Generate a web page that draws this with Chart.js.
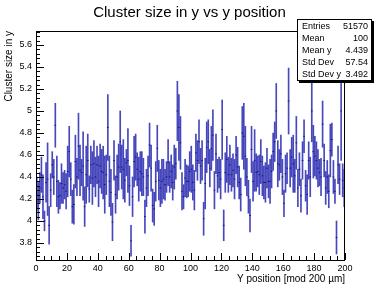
<!DOCTYPE html>
<html lang="en">
<head>
<meta charset="UTF-8">
<title>Cluster size in y vs y position</title>
<script src="https://cdn.jsdelivr.net/npm/chart.js"></script>
<style>
    html, body {
        margin: 0;
        padding: 0;
        background: #fff;
    }
    #wrap {
        position: relative;
        width: 374px;
        height: 286px;
    }
    #title {
        position: absolute;
        left: 0;
        top: 3px;
        width: 379px;
        text-align: center;
        font: 15px "Liberation Sans", Arial, sans-serif;
        color: #000;
        white-space: nowrap;
    }
    #stats {
        position: absolute;
        left: 297px;
        top: 19px;
        width: 73px;
        height: 60px;
        border: 1px solid #000;
        background: #fff;
        box-shadow: 2px 2px 0 #000;
        font: 9px "Liberation Sans", Arial, sans-serif;
        color: #000;
    }
    #stats .row {
        display: flex;
        justify-content: space-between;
        height: 12px;
        line-height: 12px;
        padding: 0 3px 0 4px;
    }
</style>
</head>
<body>
<div id="wrap">
    <canvas id="profChart" width="374" height="286"></canvas>
    <div id="title">Cluster size in y vs y position</div>
    <div id="stats"></div>
</div>

<script>
    // bin contents of the profile (mean cluster size per 1 um bin) and their errors
    const clusterMean = [
        4.25, 4.18, 4.30, 4.42, 4.22, 4.00, 4.35, 4.38, 3.96, 4.28,
        4.51, 4.40, 4.87, 4.36, 4.22, 4.23, 4.34, 4.30, 4.33, 4.27,
        4.45, 4.63, 4.38, 4.13, 4.15, 4.54, 4.40, 4.68, 4.46, 4.44,
        4.50, 4.13, 4.42, 4.55, 4.29, 4.51, 4.39, 4.52, 4.40, 4.51,
        4.36, 4.50, 4.45, 4.44, 4.33, 4.42, 4.85, 4.36, 4.26, 3.99,
        4.55, 4.24, 4.40, 4.49, 4.72, 4.49, 4.47, 4.37, 4.53, 4.55,
        4.32, 3.82, 4.22, 4.54, 4.58, 4.47, 4.38, 4.45, 4.43, 4.40,
        4.04, 4.30, 4.41, 4.69, 4.48, 4.14, 4.11, 4.36, 4.66, 4.37,
        4.30, 4.36, 4.38, 4.33, 4.40, 4.53, 4.40, 4.45, 4.35, 4.49,
        4.52, 5.00, 4.85, 4.71, 4.27, 4.22, 4.39, 4.36, 4.36, 4.45,
        4.47, 4.35, 4.28, 4.62, 4.55, 4.72, 4.50, 4.55, 4.02, 4.34,
        4.67, 4.72, 4.48, 4.66, 4.78, 4.28, 4.61, 4.41, 4.44, 4.38,
        4.83, 3.96, 4.44, 4.56, 4.42, 4.51, 4.42, 4.46, 4.38, 4.60,
        4.49, 4.35, 4.24, 4.80, 4.77, 4.59, 4.40, 4.22, 4.05, 4.65,
        4.36, 4.55, 4.44, 4.45, 4.42, 4.54, 4.41, 4.35, 4.35, 4.48,
        4.36, 4.36, 4.45, 4.63, 4.72, 5.00, 4.52, 4.51, 4.61, 4.40,
        4.16, 4.43, 4.48, 5.09, 4.48, 4.58, 4.52, 4.41, 4.71, 4.30,
        4.47, 4.23, 4.55, 4.77, 4.32, 4.24, 4.55, 4.40, 5.00, 4.63,
        4.59, 4.55, 4.48, 4.44, 4.40, 4.88, 4.55, 4.30, 4.40, 4.27,
        4.64, 4.74, 4.40, 4.27, 3.85, 4.51, 4.38, 5.00, 4.37, 4.30
    ];
    const clusterErr = [
        0.15, 0.17, 0.14, 0.16, 0.20, 0.09, 0.18, 0.33, 0.17, 0.15,
        0.12, 0.16, 0.20, 0.23, 0.15, 0.12, 0.18, 0.14, 0.13, 0.16,
        0.23, 0.23, 0.15, 0.15, 0.18, 0.24, 0.17, 0.30, 0.23, 0.12,
        0.31, 0.18, 0.26, 0.24, 0.12, 0.17, 0.24, 0.21, 0.18, 0.17,
        0.23, 0.20, 0.20, 0.24, 0.26, 0.18, 0.30, 0.23, 0.21, 0.17,
        0.18, 0.17, 0.20, 0.21, 0.28, 0.20, 0.27, 0.20, 0.12, 0.29,
        0.18, 0.14, 0.18, 0.23, 0.21, 0.15, 0.20, 0.18, 0.20, 0.17,
        0.15, 0.17, 0.18, 0.20, 0.21, 0.15, 0.15, 0.18, 0.21, 0.18,
        0.17, 0.20, 0.18, 0.14, 0.14, 0.21, 0.14, 0.15, 0.16, 0.20,
        0.14, 0.27, 0.30, 0.24, 0.17, 0.11, 0.17, 0.15, 0.14, 0.18,
        0.21, 0.16, 0.18, 0.17, 0.18, 0.20, 0.16, 0.18, 0.15, 0.23,
        0.23, 0.20, 0.17, 0.20, 0.23, 0.17, 0.18, 0.15, 0.14, 0.18,
        0.27, 0.14, 0.18, 0.21, 0.16, 0.18, 0.15, 0.15, 0.18, 0.17,
        0.18, 0.15, 0.15, 0.24, 0.30, 0.27, 0.17, 0.15, 0.15, 0.21,
        0.18, 0.28, 0.17, 0.14, 0.18, 0.20, 0.18, 0.15, 0.18, 0.18,
        0.15, 0.20, 0.15, 0.17, 0.18, 0.25, 0.21, 0.14, 0.17, 0.16,
        0.12, 0.17, 0.14, 0.30, 0.17, 0.18, 0.26, 0.15, 0.24, 0.17,
        0.15, 0.15, 0.17, 0.15, 0.14, 0.18, 0.17, 0.18, 0.28, 0.24,
        0.18, 0.17, 0.17, 0.12, 0.17, 0.21, 0.15, 0.15, 0.15, 0.15,
        0.24, 0.15, 0.15, 0.11, 0.15, 0.17, 0.14, 0.45, 0.15, 0.17
    ];
    // bin centres, 200 bins of 1 um between 0 and 200
    const binCenters = clusterMean.map((_, i) => i + 0.5);

    const xTicks = [0, 20, 40, 60, 80, 100, 120, 140, 160, 180, 200];
    const yTicks = [3.8, 4, 4.2, 4.4, 4.6, 4.8, 5, 5.2, 5.4, 5.6];

    const statLabels = ['Entries', 'Mean', 'Mean y', 'Std Dev', 'Std Dev y'];
    const statValues = ['51570', '100', '4.439', '57.54', '3.492'];

    const FONT = '"Liberation Sans", Arial, Helvetica, sans-serif';
    const BLUE = 'rgba(20, 20, 170, 0.78)';

    // stat box
    const statsBox = document.getElementById('stats');
    statLabels.forEach((lab, i) => {
        const row = document.createElement('div');
        row.className = 'row';
        row.innerHTML = `<span>${lab}</span><span>${statValues[i]}</span>`;
        statsBox.appendChild(row);
    });

    // ROOT-like frame with inward tick marks
    const rootFrame = {
        id: 'rootFrame',
        afterDraw(chart) {
            const {ctx, chartArea: a, scales: {x, y}} = chart;
            ctx.save();
            ctx.strokeStyle = '#000';
            ctx.lineWidth = 1;
            ctx.strokeRect(a.left + 0.5, a.top + 0.5, a.right - a.left - 1, a.bottom - a.top);
            ctx.beginPath();
            for (let v = 0; v <= 200; v += 5) {
                const px = Math.round(x.getPixelForValue(v)) + 0.5;
                const len = v % 20 === 0 ? 7 : 4;
                ctx.moveTo(px, a.bottom);
                ctx.lineTo(px, a.bottom - len);
            }
            for (let k = 92; k <= 143; k++) {
                const py = Math.round(y.getPixelForValue(k * 0.04)) + 0.5;
                const len = k % 5 === 0 ? 8 : 4;
                ctx.moveTo(a.left, py);
                ctx.lineTo(a.left + len, py);
            }
            ctx.stroke();
            ctx.restore();
        }
    };

    const ctx = document.getElementById('profChart').getContext('2d');
    new Chart(ctx, {
        type: 'bar',
        data: {
            datasets: [{
                type: 'bar',
                data: binCenters.map((c, i) => ({x: c, y: [clusterMean[i] - clusterErr[i], clusterMean[i] + clusterErr[i]]})),
                backgroundColor: BLUE,
                borderWidth: 0,
                barThickness: 1,
                grouped: false,
                order: 2
            }, {
                type: 'line',
                data: binCenters.map((c, i) => ({x: c, y: clusterMean[i]})),
                showLine: false,
                pointStyle: 'line',
                pointRadius: 0.8,
                pointBorderWidth: 1,
                pointBorderColor: 'rgb(20, 20, 120)',
                pointHoverRadius: 0,
                order: 1
            }]
        },
        options: {
            responsive: false,
            animation: false,
            events: [],
            layout: {padding: {left: 0, right: 29, top: 31, bottom: 0}},
            plugins: {
                legend: {display: false},
                tooltip: {enabled: false},
                title: {display: false}
            },
            scales: {
                x: {
                    type: 'linear',
                    min: 0,
                    max: 200,
                    offset: false,
                    grid: {display: false, drawTicks: false},
                    border: {display: false},
                    afterBuildTicks: s => { s.ticks = xTicks.map(v => ({value: v})); },
                    afterFit: s => { s.height = 26; },
                    ticks: {color: '#000', font: {family: FONT, size: 9}, padding: 3, maxRotation: 0, autoSkip: false},
                    title: {
                        display: true,
                        text: 'Y position [mod 200 µm]',
                        align: 'end',
                        color: '#000',
                        font: {family: FONT, size: 10},
                        padding: {top: 0, bottom: 1}
                    }
                },
                y: {
                    min: 3.645,
                    max: 5.727,
                    grid: {display: false, drawTicks: false},
                    border: {display: false},
                    afterBuildTicks: s => { s.ticks = yTicks.map(v => ({value: v})); },
                    afterFit: s => { s.width = 36; },
                    ticks: {color: '#000', font: {family: FONT, size: 9}, padding: 4, callback: v => String(v)},
                    title: {
                        display: true,
                        text: 'Cluster size in y',
                        align: 'end',
                        color: '#000',
                        font: {family: FONT, size: 10},
                        padding: {top: 3, bottom: 0}
                    }
                }
            }
        },
        plugins: [rootFrame]
    });
</script>
</body>
</html>
